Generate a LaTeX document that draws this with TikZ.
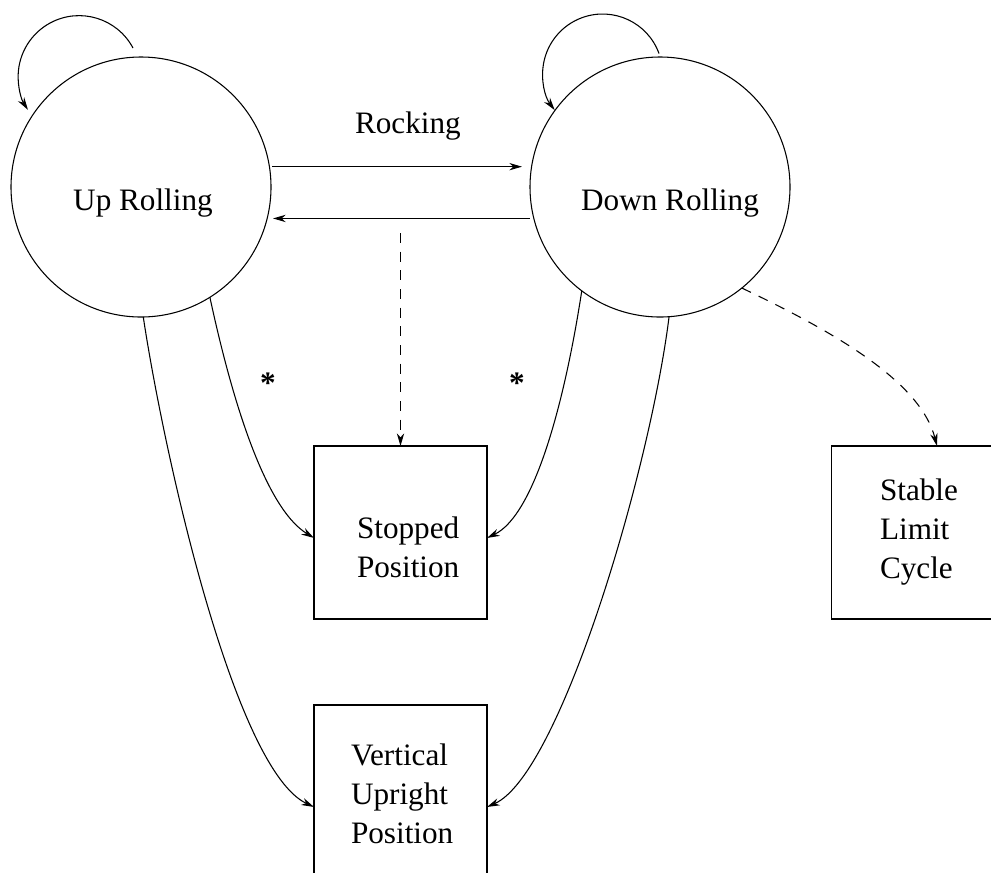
\documentclass[tikz,border=0pt]{standalone}
\usepackage{fontspec}
\setmainfont{Liberation Serif}
\usetikzlibrary{arrows.meta}
\tikzset{
  lw/.style={line width=0.8pt},
  arr/.style={lw,-{Stealth[length=9.5pt,width=5.5pt,inset=3pt]}},
  dsh/.style={arr,dash pattern=on 7.5pt off 6.5pt},
  state/.style={circle,draw,lw,inner sep=0pt,outer sep=0pt,minimum size=195pt},
  sbox/.style={rectangle,draw,lw,inner sep=0pt,outer sep=0pt,minimum width=129.75pt,minimum height=129.75pt},
  lbl/.style={inner sep=0pt,outer sep=0pt,font=\fontsize{23.4}{28.9}\selectfont},
  mlbl/.style={lbl,align=left,anchor=base west}
}
\begin{document}
\begin{tikzpicture}[x=0.75pt,y=-0.75pt]
\useasboundingbox (0,0) rectangle (991,872);
\clip (0,0) rectangle (991,872);
% states
\node[state] (up) at (141,187) {};
\node[state] (dn) at (660,187) {};
\node[lbl,anchor=base] (upl) at (143,210) {Up Rolling};
\node[lbl,anchor=base] (dnl) at (670,210) {Down Rolling};
% boxes
\node[sbox] (stop) at (400.5,532.5) {};
\node[sbox] (stab) at (918,532.5) {};
\node[sbox] (vert) at (400.5,791.5) {};
\node[mlbl] (stopl) at (357,577) {Stopped\\Position};
\node[mlbl] (stabl) at (880,578) {Stable\\Limit\\Cycle};
\node[mlbl] (vertl) at (351,843) {Vertical\\Upright\\Position};
% rocking
\node[lbl,anchor=base west] (rock) at (355,133) {Rocking};
\draw[arr,shorten <=2.2pt,shorten >=6pt] (up.9.7) -- (up.9.7 -| dn.west);
\draw[arr,shorten <=3pt,shorten >=1.5pt] (dn.194.1) -- (dn.194.1 -| up.east);
\coordinate (rk) at (400.5,233);
\draw[dsh] (rk) -- (stop.north);
% self loops
\draw[arr] ([shift={(-8,-9)}]up.north) arc[start angle=-28,end angle=-213,radius=61];
\draw[arr] ([shift={(-1,-3.5)}]dn.north) arc[start angle=-20,end angle=-217,radius=60];
% curves
\draw[arr] (up.-58.7) .. controls (232,400) and (265,508) .. ([yshift=-4.1pt]stop.west);
\draw[arr] (up.-89) .. controls (165,460) and (235,770) .. ([yshift=-11.6pt]vert.west);
\draw[arr] (dn.-127.4) .. controls (565,400) and (535,515) .. ([yshift=-4.1pt]stop.east);
\draw[arr] (dn.-86.6) .. controls (650,470) and (560,775) .. ([yshift=-11.6pt]vert.east);
\draw[dsh] (dn.-51) .. controls (830,330) and (920,380) .. ([xshift=14.25pt]stab.north);
% asterisks
\node[lbl,anchor=base] (ast1) at (268,393) {\textbf{*}};
\node[lbl,anchor=base] (ast2) at (517,393) {\textbf{*}};
\end{tikzpicture}
\end{document}
